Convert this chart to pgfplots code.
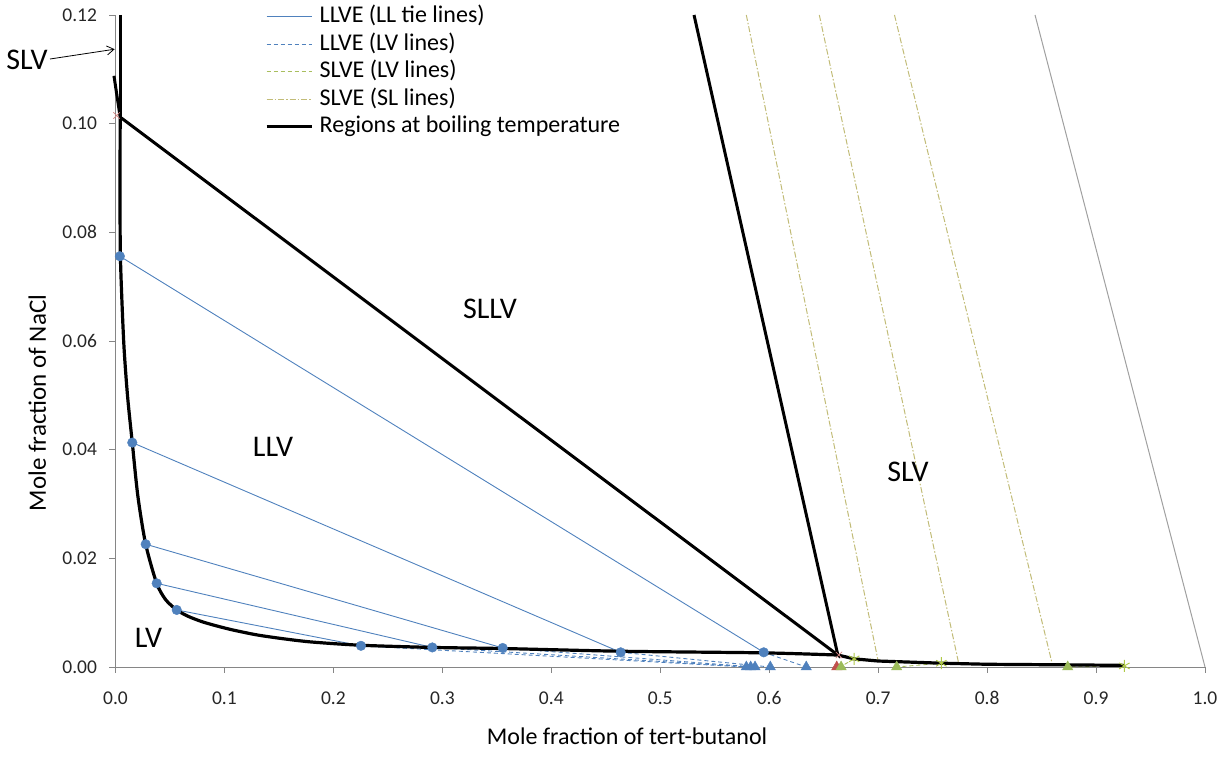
\documentclass[border=0pt]{standalone}
\usepackage{pgfplots}
\pgfplotsset{compat=1.18}
\usepackage{fontspec}
\setmainfont{Carlito}
\usetikzlibrary{arrows.meta}
\definecolor{exblue}{HTML}{4F81BD}
\definecolor{exgreen}{HTML}{9BBB59}
\definecolor{exred}{HTML}{C0504D}
\definecolor{sltan}{HTML}{C2BC78}
\definecolor{slvlv}{HTML}{A9BE5E}
\definecolor{axgrey}{HTML}{868686}
\definecolor{lgrey}{HTML}{A0A0A0}
\begin{document}
\begin{tikzpicture}
\path[use as bounding box] (0,0) rectangle (1229pt,757pt);
\begin{axis}[
  at={(115.5pt,90pt)}, anchor=south west,
  scale only axis, width=1089.5pt, height=652pt,
  xmin=0, xmax=1, ymin=0, ymax=0.12,
  axis lines*=left,
  axis line style={axgrey, line width=0.9pt},
  tick style={axgrey, line width=0.9pt},
  tick align=outside, major tick length=6pt,
  xtick={0,0.1,0.2,0.3,0.4,0.5,0.6,0.7,0.8,0.9,1},
  ytick={0,0.02,0.04,0.06,0.08,0.1,0.12},
  scaled x ticks=false, scaled y ticks=false,
  tick label style={font=\fontsize{19.5}{21}\selectfont, text=black!85},
  xticklabel style={yshift=-15pt, /pgf/number format/.cd, fixed, fixed zerofill, precision=1, assume math mode=true},
  yticklabel style={xshift=-9pt, /pgf/number format/.cd, fixed, fixed zerofill, precision=2, assume math mode=true},
  clip=false,
  legend cell align=left,
  legend image code/.code={\draw[#1] (0pt,0pt) -- (45pt,0pt);},
  legend style={at={(axis description cs:0.1372,1.0185)}, anchor=north west, draw=none, fill=none, inner sep=0pt,
    font=\fontsize{24}{27}\selectfont, nodes={text height=17pt, text depth=5.5pt, inner sep=2.5pt, anchor=west},
    row sep=0pt, column sep=4pt},
]
\addlegendimage{exblue, line width=1pt}
\addlegendentry{LLVE (LL tie lines)}
\addlegendimage{exblue, line width=1pt, dash pattern=on 4pt off 3pt}
\addlegendentry{LLVE (LV lines)}
\addlegendimage{slvlv, line width=1pt, dash pattern=on 4pt off 3pt}
\addlegendentry{SLVE (LV lines)}
\addlegendimage{sltan, line width=1pt, dash pattern=on 6pt off 2pt on 1.5pt off 2pt}
\addlegendentry{SLVE (SL lines)}
\addlegendimage{black, line width=3pt}
\addlegendentry{Regions at boiling temperature}

% grey line
\addplot[lgrey, line width=1pt, forget plot] coordinates {(0.844,0.12) (1.0,0.0)};
% SL lines
\addplot[sltan, line width=1pt, dash pattern=on 6pt off 2pt on 1.5pt off 2pt, forget plot] coordinates {(0.579,0.12) (0.700,0.0011)};
\addplot[sltan, line width=1pt, dash pattern=on 6pt off 2pt on 1.5pt off 2pt, forget plot] coordinates {(0.646,0.12) (0.774,0.0006)};
\addplot[sltan, line width=1pt, dash pattern=on 6pt off 2pt on 1.5pt off 2pt, forget plot] coordinates {(0.715,0.12) (0.860,0.0004)};
% LL tie lines
\addplot[exblue, line width=0.9pt, forget plot] coordinates {(0.004,0.0756) (0.595,0.0027)};
\addplot[exblue, line width=0.9pt, forget plot] coordinates {(0.0154,0.0413) (0.4637,0.0027)};
\addplot[exblue, line width=0.9pt, forget plot] coordinates {(0.0277,0.0226) (0.3554,0.0035)};
\addplot[exblue, line width=0.9pt, forget plot] coordinates {(0.0378,0.0154) (0.2908,0.0036)};
\addplot[exblue, line width=0.9pt, forget plot] coordinates {(0.0562,0.0105) (0.2253,0.0039)};
% LLVE LV lines
\addplot[exblue, line width=0.9pt, dash pattern=on 4pt off 3pt, forget plot] coordinates {(0.2253,0.0039) (0.579,0)};
\addplot[exblue, line width=0.9pt, dash pattern=on 4pt off 3pt, forget plot] coordinates {(0.2908,0.0036) (0.583,0)};
\addplot[exblue, line width=0.9pt, dash pattern=on 4pt off 3pt, forget plot] coordinates {(0.3554,0.0035) (0.587,0)};
\addplot[exblue, line width=0.9pt, dash pattern=on 4pt off 3pt, forget plot] coordinates {(0.4637,0.0027) (0.601,0)};
\addplot[exblue, line width=0.9pt, dash pattern=on 4pt off 3pt, forget plot] coordinates {(0.595,0.0027) (0.634,0)};
% SLVE LV lines
\addplot[slvlv, line width=0.9pt, dash pattern=on 4pt off 3pt, forget plot] coordinates {(0.678,0.0015) (0.665,0)};
\addplot[slvlv, line width=0.9pt, dash pattern=on 4pt off 3pt, forget plot] coordinates {(0.758,0.0007) (0.717,0)};
\addplot[slvlv, line width=0.9pt, dash pattern=on 4pt off 3pt, forget plot] coordinates {(0.926,0.0002) (0.874,0)};
% boundary curves
\addplot[black, line width=3.2pt, forget plot] coordinates {(0.0043,0.12) (0.0043,0.1012)};
\addplot[black, line width=3.2pt, smooth, tension=0.45, forget plot] coordinates {
(0.0043,0.1012) (0.0042,0.09) (0.0045,0.0756) (0.0075,0.06) (0.0110,0.05) (0.0154,0.0413)
(0.0205,0.0315) (0.0277,0.0226) (0.0378,0.0154) (0.0460,0.0124) (0.0562,0.0105) (0.067,0.0093) (0.080,0.0083)
(0.094,0.0075) (0.108,0.0068) (0.130,0.0059) (0.154,0.0052) (0.180,0.0046) (0.2253,0.0040) (0.2908,0.0036)
(0.3554,0.0034) (0.4637,0.0029) (0.595,0.0026) (0.663,0.0022)};
\addplot[black, line width=3.2pt, forget plot] coordinates {
(0.663,0.0022) (0.678,0.0015) (0.700,0.0011) (0.758,0.0007) (0.800,0.0005) (0.870,0.0004) (0.926,0.0003)};
\addplot[black, line width=3pt, forget plot] coordinates {(-0.0014,0.1088) (0.0043,0.1012) (0.663,0.0022) (0.531,0.12)};
% markers
\addplot[only marks, mark=*, mark size=4.8pt, exblue, forget plot] coordinates {
(0.004,0.0756) (0.0154,0.0413) (0.0277,0.0226) (0.0378,0.0154) (0.0562,0.0105)
(0.2253,0.0039) (0.2908,0.0036) (0.3554,0.0035) (0.4637,0.0027) (0.595,0.0027)};
\addplot[only marks, mark=triangle*, mark size=6pt, exblue, forget plot] coordinates {
(0.579,0) (0.583,0) (0.587,0) (0.601,0) (0.634,0)};
\addplot[only marks, mark=triangle*, mark size=6pt, exred, forget plot] coordinates {(0.662,0)};
\addplot[only marks, mark=triangle*, mark size=6pt, exgreen, forget plot] coordinates {(0.666,0) (0.717,0) (0.874,0)};
\addplot[only marks, mark=asterisk, mark size=6pt, exgreen!80!yellow, line width=0.9pt, forget plot] coordinates {(0.678,0.0015) (0.758,0.0007) (0.926,0.0002)};
\addplot[only marks, mark=x, mark size=4.5pt, exred!70, line width=0.7pt, forget plot] coordinates {(0.001,0.1015) (0.664,0.0022)};
% region labels
\node[font=\fontsize{30}{32}\selectfont] at (axis cs:0.3437,0.0659) {SLLV};
\node[font=\fontsize{30}{32}\selectfont] at (axis cs:0.1446,0.0405) {LLV};
\node[font=\fontsize{30}{32}\selectfont] at (axis cs:0.0303,0.0053) {LV};
\node[font=\fontsize{30}{32}\selectfont] at (axis cs:0.7274,0.0359) {SLV};
\node[font=\fontsize{30}{32}\selectfont] at (axis cs:-0.0812,0.1117) {SLV};
\draw[-{Straight Barb[length=7pt,width=9pt]}, line width=0.8pt] (axis cs:-0.0601,0.1119) -- (axis cs:-0.0008,0.1137);
% axis titles
\node[anchor=base, font=\fontsize{24}{26}\selectfont] at (axis description cs:0.4695,-0.1196) {Mole fraction of tert-butanol};
\node[anchor=base, rotate=90, font=\fontsize{25}{27}\selectfont] at (axis description cs:-0.0638,0.405) {Mole fraction of NaCl};
\end{axis}
\end{tikzpicture}
\end{document}
